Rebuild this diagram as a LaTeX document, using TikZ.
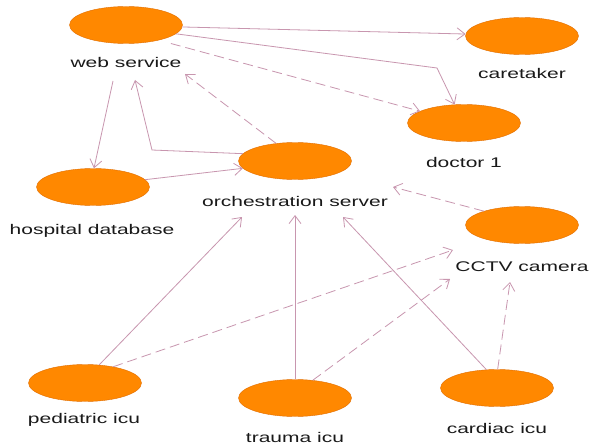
\documentclass[tikz,border=0pt]{standalone}
\usepackage{fontspec}
\usetikzlibrary{shapes.geometric,arrows.meta}
\newfontfamily\lblfont[FakeStretch=1.5]{Liberation Sans}
\definecolor{nodeorange}{RGB}{255,136,0}
\definecolor{nodeedge}{RGB}{225,110,0}
\definecolor{linkcol}{RGB}{200,150,175}
\definecolor{txtcol}{RGB}{25,25,25}
\begin{document}
\begin{tikzpicture}[x=1pt,y=-1pt,
  blob/.style={ellipse,fill=nodeorange,draw=nodeedge,line width=0.4pt,minimum width=113pt,minimum height=37pt,inner sep=0pt},
  lbl/.style={anchor=base,inner sep=0pt,text=txtcol,font=\lblfont\fontsize{14}{16}\selectfont},
  link/.style={draw=linkcol,line width=0.8pt,-{Straight Barb[length=8pt,width=12pt]}},
  dlink/.style={link,dash pattern=on 10pt off 5pt}]
\fill[white] (0,0) rectangle (592,444);
\useasboundingbox (0,0) rectangle (592,444);

\node[blob] (ws) at (126,25) {};
\node[lbl] (wsl) at (126,68) {web service};
\node[blob] (ct) at (522,36) {};
\node[lbl] (ctl) at (522,79) {caretaker};
\node[blob] (d1) at (464,123) {};
\node[lbl] (d1l) at (464,167) {doctor 1};
\node[blob] (os) at (295,161) {};
\node[lbl] (osl) at (295,206) {orchestration server};
\node[blob] (hd) at (93,187) {};
\node[lbl] (hdl) at (92,234) {hospital database};
\node[blob] (cc) at (522,225) {};
\node[lbl] (ccl) at (522,271) {CCTV camera};
\node[blob] (pi) at (85,383) {};
\node[lbl] (pil) at (84,423) {pediatric icu};
\node[blob] (ti) at (295,398) {};
\node[lbl] (til) at (295,442) {trauma icu};
\node[blob] (ci) at (497,388) {};
\node[lbl] (cil) at (497,433) {cardiac icu};

\coordinate (bendA) at (437,68);
\coordinate (bendB) at (152,150);

\draw[link] (ws.-2) -- (ct.178);
\draw[link] (ws.-10) -- (bendA) -- (d1.117);
\draw[dlink] ([shift={(9pt,-4pt)}]ws.-22) -- (d1.165);
\draw[link] ([shift={(-13pt,-13pt)}]wsl.base) -- (hd.87);
\draw[link] (os.172) -- (bendB) -- ([shift={(9pt,-12pt)}]wsl.base);
\draw[dlink] (os.137) -- ([shift={(59pt,-6pt)}]wsl.base);
\draw[link] (hd.8) -- (os.188);
\draw[dlink] (cc.160) -- ([shift={(98pt,19pt)}]osl.base);
\draw[link] (pi.52) -- ([shift={(-53pt,-11pt)}]osl.base);
\draw[dlink] (pi.30) -- ([shift={(-69pt,21pt)}]ccl.base);
\draw[link] (ti.north) -- ([yshift=-9pt]osl.base);
\draw[dlink] (ti.45) -- ([shift={(-72pt,-8pt)}]ccl.base);
\draw[link] (ci.120) -- ([shift={(48pt,-11pt)}]osl.base);
\draw[dlink] (ci.88) -- ([shift={(-12pt,-11pt)}]ccl.base);
\end{tikzpicture}
\end{document}
